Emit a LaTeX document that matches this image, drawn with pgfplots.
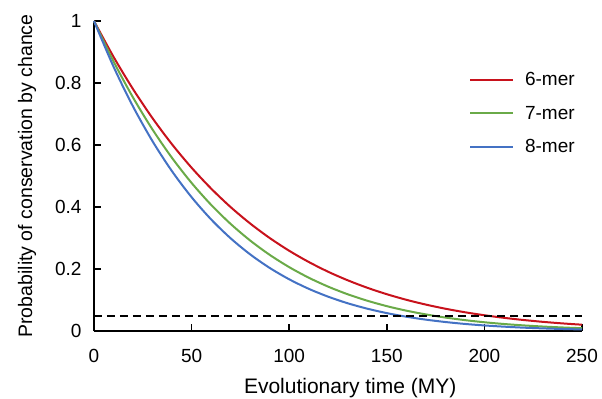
\documentclass[border=0pt]{standalone}
\usepackage{pgfplots}
\pgfplotsset{compat=1.18}
\usepackage{fontspec}
\setmainfont{Liberation Sans}
\definecolor{cred}{RGB}{200,18,28}
\definecolor{cgreen}{RGB}{106,170,72}
\definecolor{cblue}{RGB}{68,114,196}
\begin{document}
\begin{tikzpicture}
\path[use as bounding box] (-94bp,-68bp) rectangle (508bp,331bp);
\begin{axis}[
  at={(0,0)}, anchor=south west,
  scale only axis, width=488bp, height=310bp,
  xmin=0, xmax=250, ymin=0, ymax=1,
  axis lines=left, axis line style={line width=2bp,-},
  xtick={0,50,100,150,200,250},
  ytick={0,0.2,0.4,0.6,0.8,1},
  tick align=inside, major tick length=7bp,
  tick style={line width=1.6bp,black},
  /pgf/number format/assume math mode=true,
  tick label style={font=\fontsize{19bp}{19bp}\selectfont},
  xticklabel style={yshift=-15bp},
  yticklabel style={xshift=-9bp},
  xlabel style={font=\fontsize{21bp}{21bp}\selectfont},
  ylabel style={font=\fontsize{19.5bp}{19.5bp}\selectfont},
  xlabel={Evolutionary time (MY)},
  ylabel={Probability of conservation by chance},
  xlabel style={at={(axis description cs:0.525,-0.203)}, anchor=base},
  ylabel style={at={(axis description cs:-0.127,0.5)}, anchor=base},
  clip=false,
  legend style={draw=none, fill=none, at={(0.762,0.848)}, anchor=north west,
    font=\fontsize{19bp}{19bp}\selectfont, row sep=15bp,
    /tikz/every odd column/.append style={column sep=9bp}},
  legend cell align=left,
  legend image code/.code={\draw[#1, line width=2bp] (0bp,0bp) -- (43bp,0bp);},
]
\addplot[cred, line width=2bp, smooth] coordinates {
(0,1) (10,0.8845) (20,0.7803) (30,0.6863) (40,0.6020) (50,0.5267) (60,0.4595) (70,0.3997) (80,0.3468) (90,0.3000) (100,0.2588) (110,0.2227) (120,0.1910) (130,0.1635) (140,0.1395) (150,0.1187) (160,0.1007) (170,0.0852) (180,0.0719) (190,0.0605) (200,0.0508) (210,0.0425) (220,0.0355) (230,0.0295) (240,0.0245) (250,0.0203)};
\addlegendentry{6-mer}
\addplot[cgreen, line width=2bp, smooth] coordinates {
(0,1) (10,0.8697) (20,0.7532) (30,0.6497) (40,0.5582) (50,0.4776) (60,0.4070) (70,0.3454) (80,0.2919) (90,0.2457) (100,0.2060) (110,0.1720) (120,0.1430) (130,0.1184) (140,0.0977) (150,0.0802) (160,0.0656) (170,0.0535) (180,0.0434) (190,0.0351) (200,0.0282) (210,0.0226) (220,0.0181) (230,0.0144) (240,0.0114) (250,0.0090)};
\addlegendentry{7-mer}
\addplot[cblue, line width=2bp, smooth] coordinates {
(0,1) (10,0.8528) (20,0.7241) (30,0.6120) (40,0.5151) (50,0.4316) (60,0.3600) (70,0.2990) (80,0.2472) (90,0.2035) (100,0.1668) (110,0.1361) (120,0.1106) (130,0.0894) (140,0.0720) (150,0.0577) (160,0.0461) (170,0.0366) (180,0.0290) (190,0.0228) (200,0.0179) (210,0.0140) (220,0.0108) (230,0.0084) (240,0.0065) (250,0.0050)};
\addlegendentry{8-mer}
\addplot[black, line width=2bp, dash pattern=on 8bp off 5bp, forget plot] coordinates {(0,0.05) (250,0.05)};
\end{axis}
\end{tikzpicture}
\end{document}
